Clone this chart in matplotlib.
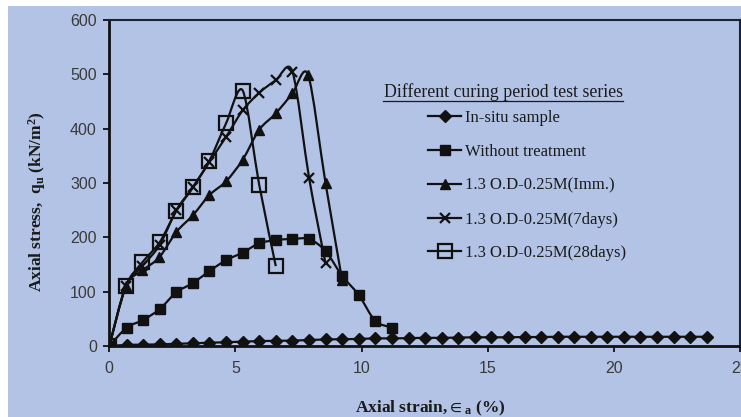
import numpy as np
import matplotlib
matplotlib.use("Agg")
import matplotlib.pyplot as plt
from matplotlib.path import Path
from matplotlib.patches import PathPatch, Rectangle
from matplotlib.lines import Line2D

plt.rcParams['mathtext.fontset'] = 'custom'
plt.rcParams['mathtext.rm'] = 'Liberation Serif:bold'
plt.rcParams['mathtext.it'] = 'Liberation Serif:bold'
plt.rcParams['mathtext.bf'] = 'Liberation Serif:bold'
plt.rcParams['mathtext.fallback'] = 'stix'

# ---------------- data ----------------
insitu_x = [0, 0.69, 1.35, 2.00, 2.66, 3.32, 3.97, 4.63, 5.29, 5.94, 6.60, 7.26, 7.92,
            8.57, 9.23, 9.89, 10.54, 11.20, 11.86, 12.51, 13.17, 13.83, 14.49, 15.14,
            15.80, 16.46, 17.11, 17.77, 18.43, 19.08, 19.74, 20.40, 21.05, 21.71,
            22.37, 23.02, 23.68]
insitu_y = [0, 2, 2.5, 3, 4, 5, 6, 7, 8, 9, 9.5, 10, 11, 12, 12.5, 13, 14, 14, 14.5,
            15, 15, 15.5, 16, 16, 16, 16.5, 16.5, 17, 17, 17, 17, 17, 17, 17, 17, 17, 17]

untreated_x = [0, 0.69, 1.35, 2.00, 2.66, 3.32, 3.97, 4.63, 5.29, 5.94, 6.60, 7.26,
               7.92, 8.57, 9.23, 9.89, 10.54, 11.20]
untreated_y = [0, 34, 48, 68, 99, 116, 138, 158, 172, 189, 195, 197, 197, 175, 129,
               94, 46, 34]

imm_x = [0, 0.66, 1.31, 1.98, 2.66, 3.32, 3.97, 4.63, 5.29, 5.94, 6.60, 7.26, 7.88,
         8.57, 9.23]
imm_y = [0, 111, 139, 163, 210, 241, 278, 303, 343, 398, 428, 465, 499, 300, 121]

d7_x = [0, 0.66, 1.31, 2.00, 2.66, 3.32, 3.97, 4.63, 5.29, 5.94, 6.60, 7.26, 7.92, 8.57]
d7_y = [0, 111, 147, 186, 250, 293, 339, 385, 434, 466, 489, 505, 309, 152]

d28_x = [0, 0.66, 1.31, 2.00, 2.66, 3.32, 3.97, 4.63, 5.29, 5.94, 6.60]
d28_y = [0, 111, 154, 191, 249, 292, 341, 410, 470, 297, 147]

labels = ["In-situ sample", "Without treatment", "1.3 O.D-0.25M(Imm.)",
          "1.3 O.D-0.25M(7days)", "1.3 O.D-0.25M(28days)"]
legend_title = "Different curing period test series"

x_ticks = [0, 5, 10, 15, 20, 25]
y_ticks = [0, 100, 200, 300, 400, 500, 600]

# ---------------- style ----------------
BG = '#b3c3e5'
LC = '#111111'
LW = 1.6

styles = [
    dict(marker='D', ms=6.0, mfc=LC, mec=LC, mew=1.0),
    dict(marker='s', ms=7.0, mfc=LC, mec=LC, mew=1.0),
    dict(marker='^', ms=6.8, mfc=LC, mec=LC, mew=1.0),
    dict(marker='x', ms=6.5, mfc=LC, mec=LC, mew=1.6),
    dict(marker='s', ms=10.0, mfc='none', mec=LC, mew=1.6),
]


def smooth_path(x, y, t=1 / 7):
    pts = np.column_stack([x, y]).astype(float)
    n = len(pts)
    verts = [pts[0]]
    codes = [Path.MOVETO]
    for i in range(n - 1):
        p0 = pts[i - 1] if i > 0 else pts[i]
        p1 = pts[i]
        p2 = pts[i + 1]
        p3 = pts[i + 2] if i + 2 < n else pts[i + 1]
        c1 = p1 + (p2 - p0) * t
        c2 = p2 - (p3 - p1) * t
        verts += [c1, c2, p2]
        codes += [Path.CURVE4] * 3
    return Path(verts, codes)


fig = plt.figure(figsize=(7.41, 4.17), dpi=100, facecolor='white')
fig.patches.append(Rectangle((8 / 741, 0), 1 - 8 / 741, 1 - 6 / 417,
                             transform=fig.transFigure, facecolor=BG,
                             edgecolor='none', zorder=-10))

ax = fig.add_axes([109.3 / 741, 1 - 346 / 417, (740 - 109.3) / 741, (346 - 20) / 417])
ax.set_facecolor(BG)
ax.patch.set_alpha(0)

series = [(insitu_x, insitu_y), (untreated_x, untreated_y), (imm_x, imm_y),
          (d7_x, d7_y), (d28_x, d28_y)]

handles = []
for (xs, ys), st, lab in zip(series, styles, labels):
    ax.add_patch(PathPatch(smooth_path(xs, ys), fill=False, edgecolor=LC, lw=LW,
                           zorder=3))
    ax.plot(xs, ys, linestyle='none', zorder=4, **st)
    handles.append(Line2D([], [], color=LC, lw=LW, **st))

ax.set_xlim(0, 25)
ax.set_ylim(0, 600)
ax.set_xticks(x_ticks)
ax.set_yticks(y_ticks)
ax.set_xticklabels([str(v) for v in x_ticks])
ax.set_yticklabels([str(v) for v in y_ticks])

for side in ['left', 'bottom']:
    ax.spines[side].set_linewidth(2.0)
    ax.spines[side].set_color('#111111')
for side in ['top', 'right']:
    ax.spines[side].set_linewidth(1.5)
    ax.spines[side].set_color('#1a2233')

ax.tick_params(axis='both', direction='out', length=4, width=1.3, colors='#111111',
               labelcolor='#3a3a3a', labelsize=11.5)
ax.tick_params(axis='x', pad=7)
ax.tick_params(axis='y', pad=5)
for lab in ax.get_xticklabels() + ax.get_yticklabels():
    lab.set_family(['Liberation Sans', 'DejaVu Sans'])

fig.text(0.580, 1 - 408 / 417, r"Axial strain,${\in}_{a}$ (%)",
         family=['Liberation Serif', 'DejaVu Serif'], fontweight='bold', fontsize=12.5,
         ha='center', va='center', color='#1a1a1a')
fig.text(37 / 741, 1 - 202 / 417, "Axial stress,  q$_{u}$ (kN/m$^{2}$)",
         family=['Liberation Serif', 'DejaVu Serif'], fontweight='bold', fontsize=12.5,
         ha='center', va='center', rotation=90, color='#1a1a1a')

# legend title with underline
fig.text(503 / 741, 1 - 91.7 / 417, legend_title,
         family=['Liberation Serif', 'DejaVu Serif'], fontsize=12.8,
         ha='center', va='center', color='#1a1a1a')
fig.add_artist(Line2D([383 / 741, 623 / 741], [1 - 101 / 417, 1 - 101 / 417],
                      transform=fig.transFigure, color='#1a1a1a', lw=0.9))

leg = ax.legend(handles, labels, loc='upper left',
                bbox_to_anchor=(428 / 741, 1 - 110 / 417),
                bbox_transform=fig.transFigure, frameon=False,
                prop={'family': 'Liberation Serif', 'size': 12},
                handlelength=2.0, handletextpad=0.2, labelspacing=1.07,
                borderpad=0, borderaxespad=0)
for t in leg.get_texts():
    t.set_color('#1a1a1a')

fig.savefig('out.png', dpi=100, facecolor='white')
